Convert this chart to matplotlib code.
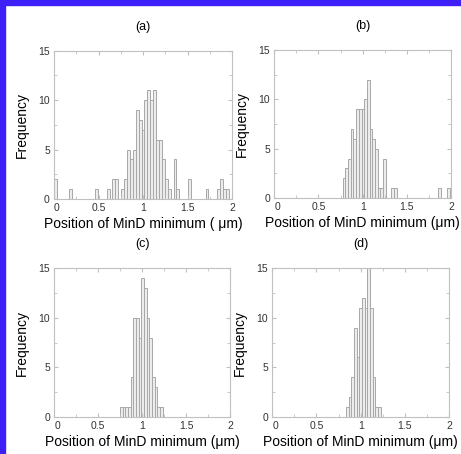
import matplotlib
matplotlib.use("Agg")
import matplotlib.pyplot as plt
from matplotlib.patches import Rectangle

plt.rcParams['font.family'] = ['Liberation Sans', 'DejaVu Sans']

# histogram data: bin centres (um) and counts
w_a = 0.0327
centers_a = [0.019, 0.183, 0.477, 0.608, 0.673, 0.706, 0.771, 0.804, 0.837,
             0.869, 0.902, 0.935, 0.967, 1.000, 1.033, 1.065, 1.098, 1.131,
             1.164, 1.196, 1.229, 1.262, 1.294, 1.360, 1.392, 1.523, 1.719,
             1.850, 1.883, 1.916, 1.948]
counts_a = [2, 1, 1, 1, 2, 2, 1, 2, 5, 4, 5, 9, 8, 7, 10, 11, 10, 11,
            6, 6, 4, 2, 1, 4, 1, 2, 1, 1, 2, 1, 1]

w_b = 0.0305
centers_b = [0.789, 0.820, 0.850, 0.881, 0.911, 0.942, 0.972, 1.003, 1.033,
             1.064, 1.094, 1.125, 1.155, 1.186, 1.216, 1.247, 1.338, 1.369,
             1.870, 1.970]
counts_b = [2, 3, 4, 7, 6, 9, 9, 9, 10, 12, 7, 6, 5, 1, 1, 4, 1, 1, 1, 1]

w_c = 0.0304
centers_c = [0.763, 0.793, 0.824, 0.854, 0.885, 0.915, 0.945, 0.976, 1.006,
             1.037, 1.067, 1.097, 1.128, 1.158, 1.189, 1.219]
counts_c = [1, 1, 1, 1, 4, 10, 10, 8, 14, 13, 10, 8, 4, 3, 1, 1]

w_d = 0.0302
centers_d = [0.849, 0.879, 0.909, 0.940, 0.970, 1.000, 1.030, 1.060, 1.091,
             1.121, 1.151, 1.181, 1.211]
counts_d = [1, 2, 4, 9, 6, 11, 12, 11, 15, 11, 4, 1, 1]

xticks = [0, 0.5, 1, 1.5, 2]
xticklabels = ['0', '0.5', '1', '1.5', '2']
yticks = [0, 5, 10, 15]

panels = ['(a)', '(b)', '(c)', '(d)']
xlabels = ['Position of MinD minimum ( \u03bcm)',
           'Position of MinD minimum (\u03bcm)',
           'Position of MinD minimum (\u03bcm)',
           'Position of MinD minimum (\u03bcm)']
data = [(centers_a, counts_a, w_a), (centers_b, counts_b, w_b),
        (centers_c, counts_c, w_c), (centers_d, counts_d, w_d)]

W, H = 461, 454
# axes boxes in pixels: left, right, top, bottom
boxes = [(54, 232, 50.7, 199), (274.3, 451, 50, 198),
         (54.3, 230, 268.3, 416.7), (272.3, 449, 268.3, 416.7)]

fig = plt.figure(figsize=(W / 100, H / 100), dpi=100)

for (l, r, t, b), (cx, cnt, w), name, xl in zip(boxes, data, panels, xlabels):
    ax = fig.add_axes([l / W, 1 - b / H, (r - l) / W, (b - t) / H])
    ax.bar(cx, cnt, width=w, color='#ececec', edgecolor='#a8a8a8', linewidth=0.7)
    ax.set_xlim(0, 2)
    ax.set_ylim(0, 15)
    ax.set_xticks(xticks, xticklabels)
    ax.set_xticks([0.25, 0.75, 1.25, 1.75], minor=True)
    ax.set_yticks(yticks)
    ax.set_yticks([2.5, 7.5, 12.5], minor=True)
    ax.tick_params(which='both', direction='in', top=True, right=True,
                   color='#c0c0c0', labelsize=7.5, labelcolor='#333333')
    ax.tick_params(which='major', length=3)
    ax.tick_params(axis='x', which='major', pad=3)
    ax.tick_params(axis='y', which='major', pad=3)
    ax.tick_params(which='minor', length=2)
    # MATLAB-like nudge of the x "0" so it sits right of the y "0"
    ax.get_xticklabels()[0].set_horizontalalignment('left')
    for s in ax.spines.values():
        s.set_color('#c0c0c0')
        s.set_linewidth(0.8)
    ax.set_title(name, fontsize=9, pad=15)
    ax.set_xlabel(xl, fontsize=10, labelpad=3)
    ax.set_ylabel('Frequency', fontsize=10, labelpad=7)

# blue frame strips at top and left
blue = '#3f1ff7'
fig.patches.append(Rectangle((0, 0), 5 / W, 1, transform=fig.transFigure,
                             color=blue, zorder=10))
fig.patches.append(Rectangle((0, 1 - 5 / H), 1, 5 / H, transform=fig.transFigure,
                             color=blue, zorder=10))

fig.savefig('out.png', dpi=100)
